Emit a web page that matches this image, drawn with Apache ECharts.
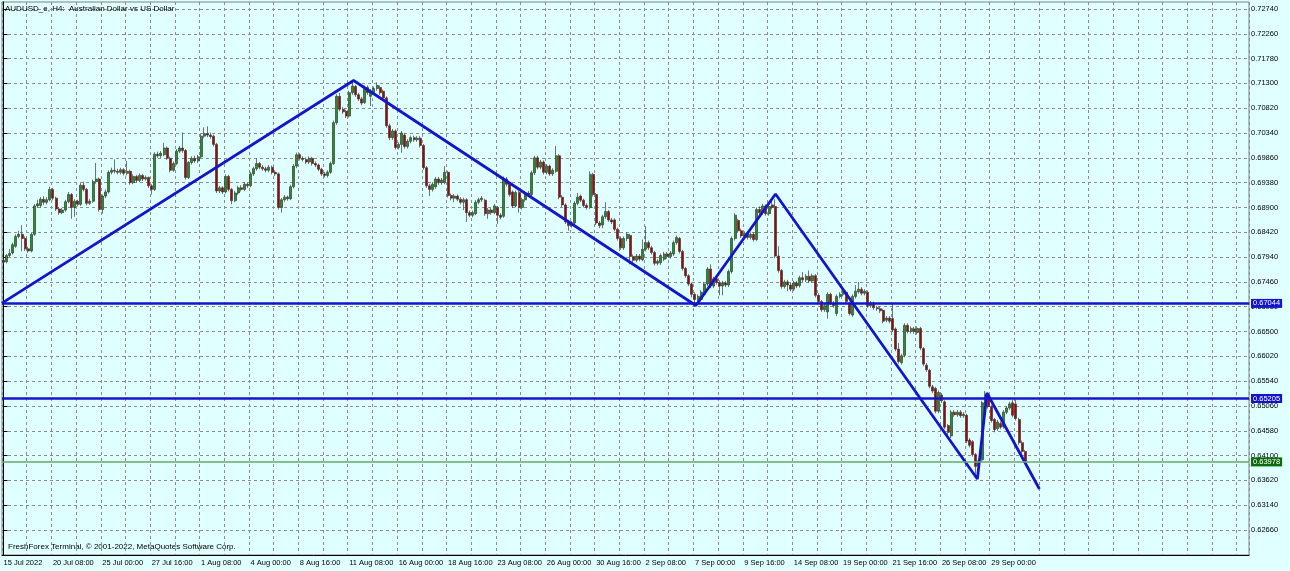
<!DOCTYPE html>
<html><head><meta charset="utf-8">
<script src="https://cdn.jsdelivr.net/npm/echarts@6/dist/echarts.min.js"></script>
<style>html,body{margin:0;padding:0;background:#e0ffff}#c{width:1290px;height:571px}</style>
</head><body><div id="c"></div>
<script>
const tickLabels = ['15 Jul 2022','20 Jul 08:00','25 Jul 00:00','27 Jul 16:00','1 Aug 08:00','4 Aug 00:00','8 Aug 16:00','11 Aug 08:00','16 Aug 00:00','18 Aug 16:00','23 Aug 08:00','26 Aug 00:00','30 Aug 16:00','2 Sep 08:00','7 Sep 00:00','9 Sep 16:00','14 Sep 08:00','19 Sep 00:00','21 Sep 16:00','26 Sep 08:00','29 Sep 00:00'];
const yTicks = [0.6266,0.6314,0.6362,0.6410,0.6458,0.6506,0.6554,0.6602,0.6650,0.6698,0.6746,0.6794,0.6842,0.6890,0.6938,0.6986,0.7034,0.7082,0.7130,0.7178,0.7226,0.7274];

const opens = [
.6788,.6785,.6797,.6802,.6815,.6834,.6838,.6830,.6810,.6806,
.6838,.6893,.6894,.6906,.6900,.6905,.6925,.6908,.6887,.6880,
.6885,.6901,.6915,.6890,.6902,.6896,.6933,.6925,.6898,.6902,
.6940,.6945,.6886,.6912,.6920,.6958,.6962,.6960,.6958,.6963,
.6956,.6960,.6938,.6950,.6942,.6952,.6945,.6948,.6932,.6925,
.6993,.6990,.6992,.7005,.6985,.6962,.6975,.6999,.7005,.7000,
.6948,.6977,.6985,.6980,.6988,.7028,.7033,.7030,.7028,.7012,
.6922,.6928,.6920,.6950,.6925,.6903,.6918,.6928,.6925,.6935,
.6932,.6955,.6965,.6975,.6968,.6965,.6962,.6968,.6958,.6955,
.6890,.6905,.6910,.6907,.6930,.6970,.6992,.6985,.6983,.6978,
.6985,.6975,.6972,.6964,.6955,.6952,.6958,.6975,.7054,.7105,
.7080,.7076,.7067,.7112,.7124,.7108,.7100,.7093,.7122,.7105,
.7112,.7120,.7122,.7115,.7102,.7048,.7025,.7038,.7006,.7012,
.7030,.7008,.7018,.7025,.7021,.7024,.7010,.6967,.6932,.6925,
.6930,.6945,.6938,.6938,.6958,.6913,.6908,.6912,.6906,.6900,
.6905,.6880,.6875,.6878,.6900,.6905,.6904,.6878,.6885,.6880,
.6890,.6875,.6873,.6945,.6935,.6920,.6893,.6919,.6890,.6905,
.6918,.6915,.6957,.6986,.6968,.6978,.6958,.6970,.6955,.6960,
.6990,.6910,.6895,.6862,.6855,.6860,.6898,.6912,.6904,.6894,
.6890,.6954,.6915,.6860,.6856,.6872,.6882,.6866,.6866,.6848,
.6830,.6812,.6830,.6836,.6795,.6788,.6796,.6789,.6809,.6822,
.6812,.6803,.6782,.6783,.6790,.6800,.6795,.6800,.6822,.6830,
.6805,.6772,.6758,.6742,.6722,.6712,.6712,.6722,.6742,.6771,
.6738,.6752,.6745,.6738,.6744,.6740,.6766,.6830,.6865,.6845,
.6835,.6840,.6832,.6838,.6828,.6886,.6880,.6893,.6878,.6895,
.6892,.6796,.6768,.6737,.6746,.6740,.6732,.6744,.6739,.6754,
.6750,.6757,.6748,.6758,.6720,.6708,.6692,.6688,.6722,.6705,
.6685,.6718,.6722,.6726,.6705,.6682,.6718,.6727,.6732,.6724,
.6726,.6700,.6705,.6696,.6694,.6691,.6672,.6676,.6675,.6655,
.6616,.6590,.6604,.6662,.6650,.6655,.6648,.6656,.6617,.6585,
.6575,.6543,.6540,.6496,.6527,.6514,.6468,.6448,.6494,.6489,
.6494,.6487,.6488,.6440,.6437,.6412,.6390,.6402,.6512,.6527,
.6505,.6480,.6462,.6472,.6466,.6494,.6502,.6512,.6510,.6480,
.6435,.6418];

const closes = [
.6784,.6797,.6801,.6818,.6834,.6838,.6830,.6810,.6806,.6838,
.6893,.6897,.6906,.6900,.6905,.6925,.6908,.6887,.6880,.6885,
.6901,.6915,.6890,.6902,.6896,.6933,.6925,.6898,.6902,.6940,
.6945,.6886,.6912,.6920,.6958,.6962,.6960,.6958,.6963,.6956,
.6960,.6938,.6950,.6942,.6952,.6945,.6948,.6932,.6925,.6993,
.6990,.6995,.7005,.6985,.6962,.6975,.6999,.7005,.7000,.6948,
.6977,.6985,.6980,.6988,.7028,.7033,.7030,.7027,.7012,.6922,
.6928,.6920,.6950,.6925,.6903,.6918,.6928,.6925,.6935,.6932,
.6955,.6965,.6975,.6968,.6965,.6962,.6968,.6958,.6955,.6890,
.6905,.6910,.6907,.6930,.6970,.6992,.6985,.6983,.6978,.6985,
.6975,.6972,.6964,.6955,.6952,.6958,.6975,.7054,.7105,.7080,
.7075,.7067,.7112,.7125,.7108,.7100,.7092,.7122,.7112,.7115,
.7120,.7126,.7112,.7102,.7048,.7025,.7038,.7006,.7012,.7034,
.7008,.7018,.7025,.7021,.7024,.7010,.6967,.6932,.6925,.6935,
.6945,.6938,.6943,.6958,.6913,.6908,.6912,.6906,.6900,.6905,
.6880,.6875,.6880,.6900,.6905,.6908,.6878,.6885,.6880,.6893,
.6875,.6871,.6945,.6935,.6915,.6893,.6919,.6890,.6905,.6918,
.6915,.6957,.6986,.6968,.6978,.6958,.6970,.6955,.6962,.6990,
.6910,.6895,.6862,.6855,.6860,.6898,.6910,.6904,.6894,.6890,
.6954,.6915,.6860,.6855,.6872,.6882,.6866,.6862,.6848,.6830,
.6812,.6830,.6838,.6795,.6788,.6796,.6790,.6809,.6822,.6812,
.6803,.6782,.6786,.6797,.6800,.6795,.6802,.6822,.6832,.6805,
.6772,.6758,.6742,.6722,.6712,.6718,.6726,.6742,.6771,.6738,
.6752,.6745,.6738,.6744,.6740,.6766,.6830,.6875,.6845,.6835,
.6840,.6832,.6838,.6828,.6886,.6880,.6893,.6878,.6892,.6890,
.6796,.6768,.6737,.6746,.6740,.6732,.6744,.6738,.6754,.6750,
.6757,.6748,.6758,.6720,.6708,.6692,.6700,.6722,.6705,.6700,
.6718,.6722,.6726,.6708,.6685,.6718,.6728,.6732,.6724,.6728,
.6700,.6705,.6696,.6694,.6690,.6670,.6676,.6670,.6653,.6616,
.6592,.6603,.6662,.6650,.6656,.6650,.6656,.6618,.6587,.6576,
.6544,.6535,.6496,.6532,.6516,.6465,.6455,.6494,.6489,.6494,
.6487,.6490,.6438,.6430,.6412,.6389,.6400,.6512,.6528,.6505,
.6478,.6460,.6475,.6465,.6494,.6502,.6510,.6488,.6482,.6435,
.6418,.6398];

const highs = [
.6792,.6800,.6810,.6822,.6838,.6845,.6856,.6834,.6814,.6842,
.6897,.6905,.6910,.6912,.6910,.6930,.6928,.6911,.6890,.6889,
.6905,.6920,.6918,.6906,.6905,.6937,.6940,.6928,.6906,.6944,
.6976,.6948,.6915,.6925,.6962,.6967,.6983,.6965,.6967,.6966,
.6980,.6963,.6954,.6953,.6956,.6955,.6952,.6950,.6935,.6997,
.6998,.6999,.7015,.7008,.6988,.6979,.7003,.7009,.7035,.7003,
.6980,.6989,.6990,.6992,.7032,.7045,.7047,.7035,.7031,.7015,
.6932,.6931,.6954,.6953,.6928,.6922,.6932,.6933,.6939,.6939,
.6959,.6969,.6985,.6978,.6972,.6969,.6972,.6971,.6962,.6958,
.6908,.6914,.6913,.6934,.6974,.6996,.6995,.6989,.6987,.6989,
.6988,.6979,.6975,.6967,.6959,.6962,.6979,.7058,.7109,.7112,
.7084,.7079,.7116,.7135,.7127,.7112,.7104,.7126,.7126,.7119,
.7124,.7132,.7126,.7118,.7105,.7052,.7042,.7041,.7016,.7038,
.7034,.7022,.7029,.7029,.7028,.7028,.7013,.6970,.6936,.6939,
.6949,.6949,.6947,.6970,.6961,.6917,.6916,.6915,.6910,.6909,
.6908,.6884,.6884,.6904,.6909,.6912,.6907,.6889,.6889,.6897,
.6893,.6879,.6950,.6949,.6938,.6923,.6923,.6922,.6909,.6922,
.6922,.6961,.6990,.6990,.6982,.6981,.6974,.6973,.6966,.7009,
.6993,.6914,.6898,.6866,.6864,.6902,.6918,.6915,.6907,.6898,
.6960,.6957,.6918,.6864,.6876,.6900,.6885,.6870,.6869,.6851,
.6834,.6834,.6842,.6839,.6799,.6800,.6800,.6828,.6854,.6826,
.6816,.6806,.6790,.6801,.6804,.6804,.6806,.6826,.6836,.6833,
.6808,.6775,.6761,.6745,.6726,.6722,.6730,.6746,.6775,.6780,
.6756,.6756,.6749,.6748,.6748,.6770,.6834,.6879,.6868,.6849,
.6844,.6844,.6842,.6842,.6890,.6892,.6897,.6896,.6896,.6904,
.6906,.6815,.6771,.6750,.6750,.6744,.6748,.6748,.6758,.6765,
.6761,.6768,.6762,.6761,.6724,.6711,.6704,.6726,.6725,.6709,
.6722,.6726,.6730,.6729,.6708,.6722,.6740,.6746,.6736,.6732,
.6729,.6709,.6708,.6700,.6698,.6694,.6680,.6680,.6704,.6658,
.6628,.6607,.6666,.6666,.6660,.6659,.6660,.6659,.6620,.6589,
.6578,.6547,.6543,.6536,.6531,.6517,.6471,.6498,.6498,.6498,
.6498,.6494,.6491,.6444,.6440,.6415,.6404,.6516,.6535,.6530,
.6508,.6483,.6479,.6476,.6498,.6506,.6514,.6518,.6518,.6483,
.6439,.6421];

const lows = [
.6780,.6782,.6794,.6799,.6812,.6830,.6805,.6806,.6802,.6803,
.6835,.6889,.6890,.6895,.6896,.6902,.6904,.6883,.6876,.6877,
.6882,.6898,.6868,.6872,.6892,.6893,.6921,.6894,.6895,.6899,
.6936,.6882,.6878,.6908,.6917,.6954,.6956,.6954,.6954,.6952,
.6952,.6934,.6935,.6938,.6939,.6941,.6942,.6928,.6915,.6922,
.6986,.6986,.6989,.6982,.6958,.6959,.6972,.6995,.6996,.6944,
.6945,.6973,.6976,.6976,.6985,.7024,.7026,.7023,.7008,.6918,
.6918,.6916,.6917,.6921,.6896,.6900,.6914,.6921,.6922,.6928,
.6929,.6951,.6961,.6964,.6961,.6958,.6958,.6954,.6951,.6886,
.6880,.6901,.6903,.6904,.6927,.6966,.6981,.6979,.6974,.6974,
.6971,.6968,.6960,.6951,.6948,.6948,.6955,.6972,.7050,.7076,
.7071,.7063,.7064,.7108,.7104,.7096,.7088,.7090,.7108,.7086,
.7108,.7116,.7108,.7098,.7044,.7020,.7021,.7002,.7002,.6996,
.7004,.7004,.7014,.7017,.7017,.7006,.6963,.6928,.6912,.6921,
.6926,.6934,.6934,.6935,.6909,.6904,.6900,.6902,.6896,.6885,
.6862,.6871,.6871,.6875,.6896,.6901,.6874,.6868,.6876,.6877,
.6858,.6867,.6870,.6931,.6911,.6889,.6890,.6880,.6886,.6901,
.6911,.6912,.6953,.6964,.6964,.6954,.6954,.6951,.6951,.6957,
.6906,.6891,.6858,.6845,.6851,.6857,.6894,.6900,.6890,.6886,
.6887,.6911,.6856,.6850,.6850,.6868,.6862,.6858,.6844,.6826,
.6808,.6808,.6825,.6780,.6784,.6784,.6786,.6786,.6805,.6808,
.6799,.6778,.6778,.6779,.6786,.6791,.6791,.6796,.6818,.6801,
.6768,.6754,.6738,.6716,.6703,.6704,.6708,.6718,.6738,.6734,
.6734,.6741,.6720,.6720,.6736,.6736,.6762,.6826,.6841,.6831,
.6831,.6828,.6828,.6824,.6825,.6876,.6876,.6874,.6874,.6886,
.6792,.6764,.6733,.6733,.6728,.6728,.6728,.6734,.6735,.6746,
.6746,.6744,.6744,.6716,.6704,.6688,.6688,.6675,.6701,.6696,
.6680,.6714,.6718,.6704,.6681,.6678,.6714,.6723,.6720,.6720,
.6696,.6696,.6692,.6690,.6686,.6666,.6668,.6666,.6649,.6612,
.6588,.6586,.6600,.6646,.6646,.6646,.6644,.6614,.6583,.6572,
.6540,.6531,.6492,.6492,.6512,.6461,.6447,.6444,.6485,.6485,
.6483,.6483,.6434,.6426,.6408,.6369,.6386,.6398,.6508,.6501,
.6474,.6455,.6458,.6461,.6462,.6490,.6498,.6484,.6478,.6431,
.6410,.6394];

const levelPrices = [0.67044, 0.65205];
const bidPrice = 0.63978;
const zigIdx = [-0.5, 113.4, 224.3, 250.1, 315.5, 318.6, 335.6];
const zigPrice = [0.6705, 0.71357, 0.67004, 0.69161, 0.63647, 0.65311, 0.63454];
const SLOTS = 404;

const FONT = '"Liberation Sans", Arial, sans-serif';
const BLUE = '#1414cc';
const cats = Array.from({length: SLOTS}, (_, i) => String(i));
const candles = opens.map((o, i) => [o, closes[i], lows[i], highs[i]]);

const boxLabel = (txt, bg) => ({
  show: true, position: 'end', distance: 2, formatter: txt,
  color: '#fff', backgroundColor: bg, padding: [1, 2, 0, 2],
  fontSize: 7.5, fontFamily: FONT
});

const chart = echarts.init(document.getElementById('c'), null, {renderer: 'canvas'});
chart.setOption({
  animation: false,
  backgroundColor: '#e0ffff',
  title: {
    text: 'AUDUSD_e, H4:  Australian Dollar vs US Dollar', left: 5, top: 5, padding: 0,
    textStyle: {fontSize: 8, fontWeight: 'normal', color: '#000', fontFamily: FONT}
  },
  grid: {left: 2, right: 41, top: 2, bottom: 16, show: true, borderColor: '#808080', borderWidth: 1, backgroundColor: 'transparent'},
  xAxis: [{
    type: 'category', data: cats, boundaryGap: true,
    axisLine: {lineStyle: {color: '#000', width: 1}},
    axisTick: {interval: 15, length: 4, lineStyle: {color: '#000'}},
    axisLabel: {
      interval: 15, formatter: (v, i) => tickLabels[i / 16] || '',
      align: 'left', margin: 4, fontSize: 7.5, color: '#000', fontFamily: FONT
    },
    splitLine: {show: true, interval: 7, lineStyle: {color: '#8c8c8c', type: [3, 3], width: 1}}
  }, {
    type: 'value', min: -0.5, max: SLOTS - 0.5, show: false
  }],
  yAxis: {
    type: 'value', position: 'right', min: 0.62177, max: 0.72875,
    axisLine: {show: true, lineStyle: {color: '#000'}},
    axisTick: {show: true, customValues: yTicks, length: 4, lineStyle: {color: '#000'}},
    axisLabel: {customValues: yTicks, formatter: v => v.toFixed(5), margin: 2, fontSize: 7.5, color: '#000', fontFamily: FONT},
    splitLine: {show: true, lineStyle: {color: '#8c8c8c', type: [3, 3], width: 1}}
  },
  series: [{
    type: 'candlestick', xAxisIndex: 0, data: candles, barWidth: 2.5,
    itemStyle: {color: '#1e961e', color0: '#b00000', borderColor: '#3a3a3a', borderColor0: '#3a3a3a', borderWidth: 0.7},
    markLine: {
      symbol: 'none', silent: true, animation: false, precision: 5,
      data: [
        {yAxis: levelPrices[0], lineStyle: {color: BLUE, width: 2.5, type: 'solid'}, label: boxLabel(levelPrices[0].toFixed(5), BLUE)},
        {yAxis: levelPrices[1], lineStyle: {color: BLUE, width: 2.5, type: 'solid'}, label: boxLabel(levelPrices[1].toFixed(5), BLUE)},
        {yAxis: bidPrice, lineStyle: {color: '#6aa86a', width: 1.5, type: 'solid'}, label: boxLabel(bidPrice.toFixed(5), '#0b6b0b')}
      ]
    }
  }, {
    type: 'line', xAxisIndex: 1, symbol: 'none', z: 4,
    data: zigIdx.map((x, i) => [x, zigPrice[i]]),
    lineStyle: {color: BLUE, width: 2.8}
  }],
  graphic: [{
    type: 'text', left: 8, top: 543,
    style: {text: 'FreshForex Terminal, \u00a9 2001-2022, MetaQuotes Software Corp.', fontSize: 8, fill: '#000', fontFamily: FONT}
  }]
});
</script></body></html>
